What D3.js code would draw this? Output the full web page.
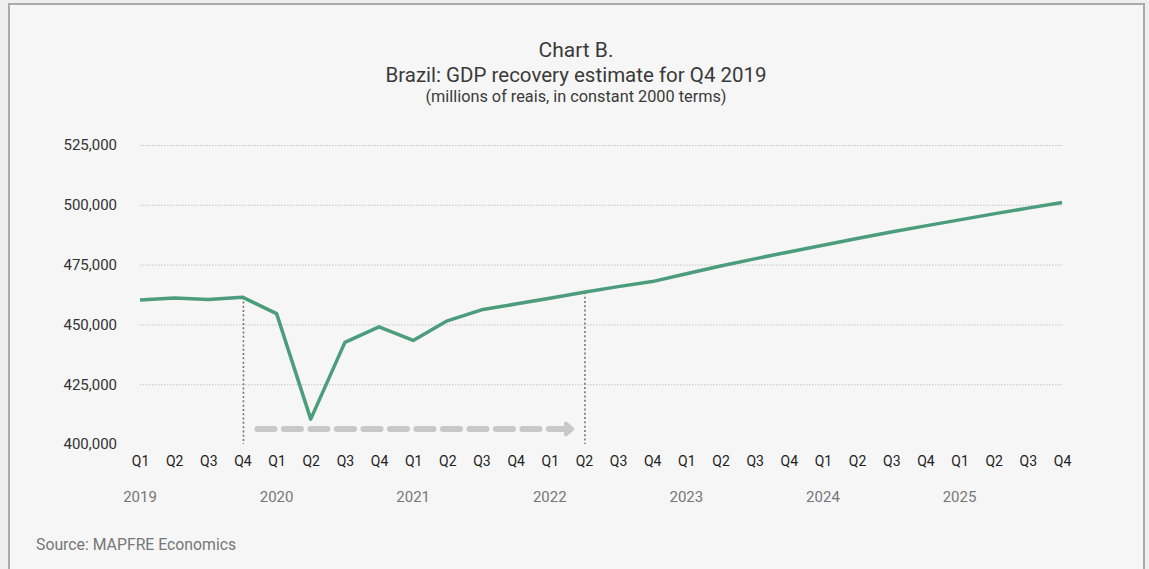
<!DOCTYPE html>
<html>
<head>
<meta charset="utf-8">
<script src="https://cdn.jsdelivr.net/npm/d3@7"></script>
<style>
  html, body { margin: 0; padding: 0; background: #efefef; }
  svg { display: block; font-family: Roboto, "Open Sans", sans-serif; }
</style>
</head>
<body>
<svg id="chart" width="1149" height="569"></svg>
<script>
// Quarterly GDP, millions of reais (constant 2000 terms)
const years = ["2019", "2020", "2021", "2022", "2023", "2024", "2025"];
const quarters = ["Q1", "Q2", "Q3", "Q4"];
const gdp = [
  460200, 461000, 460400, 461400,   // 2019
  454500, 410400, 442500, 449000,   // 2020
  443300, 451500, 456100, 458500,   // 2021
  460900, 463400, 465800, 467900,   // 2022
  471200, 474400, 477400, 480300,   // 2023
  483100, 485900, 488600, 491200,   // 2024
  493700, 496200, 498600, 501000    // 2025
];
const yTicks = [400000, 425000, 450000, 475000, 500000, 525000];
// Pre-crisis peak and the quarter it is recovered
const markerPeriods = ["2019 Q4", "2022 Q2"];

const periods = [];
years.forEach(y => quarters.forEach(q => periods.push(y + " " + q)));
const data = periods.map((p, i) => ({ period: p, value: gdp[i] }));

const svg = d3.select("#chart");
const W = 1149, H = 569;

// Panel frame
svg.append("rect")
  .attr("x", 9).attr("y", 4)
  .attr("width", 1135).attr("height", H + 10)
  .attr("fill", "#f6f6f6")
  .attr("stroke", "#aaaaaa").attr("stroke-width", 2);

const x = d3.scalePoint().domain(periods).range([140, 1062]);
const y = d3.scaleLinear().domain([400000, 525000]).range([444, 145]);

// Titles
const titles = [
  { t: "Chart B.", y: 57, size: 21 },
  { t: "Brazil: GDP recovery estimate for Q4 2019", y: 81.5, size: 20.5 },
  { t: "(millions of reais, in constant 2000 terms)", y: 102, size: 16.3 }
];
svg.selectAll("text.title").data(titles).join("text")
  .attr("class", "title")
  .attr("x", 576).attr("y", d => d.y)
  .attr("text-anchor", "middle")
  .attr("font-size", d => d.size)
  .attr("fill", "#3a3a3a")
  .text(d => d.t);

// Horizontal grid
const grid = svg.append("g")
  .attr("transform", "translate(140,0)")
  .call(d3.axisLeft(y).tickValues(yTicks.slice(1)).tickSize(-922).tickFormat(""));
grid.select(".domain").remove();
grid.selectAll("line")
  .attr("stroke", "#c4c4c4").attr("stroke-width", 1)
  .attr("stroke-dasharray", "1.5,1.5");

// Y axis labels
const yAxis = svg.append("g")
  .attr("transform", "translate(117,0)")
  .call(d3.axisLeft(y).tickValues(yTicks).tickSize(0).tickPadding(0)
    .tickFormat(d3.format(",")));
yAxis.select(".domain").remove();
yAxis.selectAll("text")
  .attr("font-size", 15).attr("fill", "#333")
  .attr("font-family", "Roboto, sans-serif");

// X axis quarter labels
const xAxis = svg.append("g")
  .attr("transform", "translate(0,444)")
  .call(d3.axisBottom(x).tickSize(0).tickPadding(12)
    .tickFormat(p => p.split(" ")[1]));
xAxis.select(".domain").remove();
xAxis.selectAll("text")
  .attr("font-size", 14).attr("fill", "#222")
  .attr("font-family", "Roboto, sans-serif");

// Year labels under each year's first quarter
svg.selectAll("text.year").data(years).join("text")
  .attr("class", "year")
  .attr("x", yr => x(yr + " Q1"))
  .attr("y", 501.5)
  .attr("text-anchor", "middle")
  .attr("font-size", 15).attr("fill", "#777")
  .text(yr => yr);

// Dotted drop lines at the peak and recovery quarters
svg.selectAll("line.marker").data(markerPeriods).join("line")
  .attr("class", "marker")
  .attr("x1", p => x(p) + 1).attr("x2", p => x(p) + 1)
  .attr("y1", p => y(gdp[periods.indexOf(p)]))
  .attr("y2", y(400000))
  .attr("stroke", "#777").attr("stroke-width", 1.6)
  .attr("stroke-dasharray", "2,2.3");

// Recovery-span arrow
const arrowY = 429;
const ax0 = x(markerPeriods[0]) + 15;
const ax1 = x(markerPeriods[1]) - 12;
svg.append("line")
  .attr("x1", ax0).attr("x2", ax1 - 6)
  .attr("y1", arrowY).attr("y2", arrowY)
  .attr("stroke", "#c8c8c8").attr("stroke-width", 6)
  .attr("stroke-linecap", "round")
  .attr("stroke-dasharray", "17,9.5");
svg.append("polyline")
  .attr("points", [[ax1 - 6, arrowY - 5], [ax1, arrowY], [ax1 - 6, arrowY + 5]].map(p => p.join(",")).join(" "))
  .attr("fill", "none")
  .attr("stroke", "#c8c8c8").attr("stroke-width", 4.5)
  .attr("stroke-linecap", "round").attr("stroke-linejoin", "round");

// GDP line
svg.append("path")
  .datum(data)
  .attr("fill", "none")
  .attr("stroke", "#4c9c80").attr("stroke-width", 3.5)
  .attr("stroke-linejoin", "round")
  .attr("d", d3.line().x(d => x(d.period)).y(d => y(d.value)));

// Source note
svg.append("text")
  .attr("x", 36).attr("y", 550)
  .attr("font-size", 15.8).attr("fill", "#777")
  .text("Source: MAPFRE Economics");
</script>
</body>
</html>
